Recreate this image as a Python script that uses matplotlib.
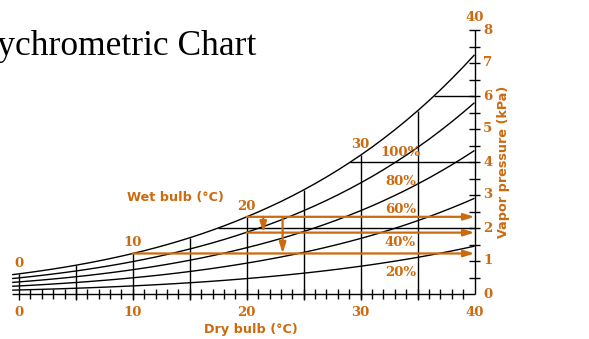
import numpy as np
import matplotlib.pyplot as plt

# dry bulb temperature (C) and saturation vapour pressure (kPa)
temps = [-0.6] + list(range(0, 41))
sat_kpa = [0.585,
           0.611, 0.657, 0.706, 0.758, 0.813, 0.872, 0.935, 1.002, 1.073, 1.148,
           1.228, 1.312, 1.402, 1.497, 1.598, 1.705, 1.818, 1.938, 2.064, 2.198,
           2.339, 2.485, 2.640, 2.802, 2.974, 3.155, 3.345, 3.545, 3.755, 3.976,
           4.208, 4.450, 4.707, 4.975, 5.256, 5.551, 5.859, 6.184, 6.523, 6.877,
           7.248]
rh_levels = [1.0, 0.8, 0.6, 0.4, 0.2]
rh_labels = ["100%", "80%", "60%", "40%", "20%"]
dry_bulb_lines = [0, 5, 10, 15, 20, 25, 30, 35]
pressure_lines = [2, 4, 6]
wet_bulb_marks = [0, 10, 20, 30]
x_labels = [0, 10, 20, 30, 40]
y_labels = [0, 1, 2, 3, 4, 5, 6, 7, 8]
# worked example: wet bulb 20 -> actual vapour pressure, wet bulb 10 (dew point)
example_dry = 20
example_vp = 1.86
example_dew = 10

ORANGE = "#CC6A0E"
temps = np.array(temps)
sat_kpa = np.array(sat_kpa)


def es(t):
    return np.interp(t, temps, sat_kpa)


fig = plt.figure(figsize=(5.89, 3.39), dpi=100)
ax = fig.add_axes([19 / 589, 45 / 339, 455.5 / 589, 264 / 339])
ax.set_xlim(0, 40)
ax.set_ylim(0, 8)
ax.axis("off")

kw = dict(color="black", lw=1.0, clip_on=False, solid_capstyle="butt")

# relative humidity curves
for rh in rh_levels:
    ax.plot(temps, sat_kpa * rh, **kw)

# dry bulb verticals up to saturation
for t in dry_bulb_lines:
    ax.plot([t, t], [-0.18, es(t)], **kw)

# vapour pressure horizontals from saturation to right axis
for p in pressure_lines:
    ax.plot([np.interp(p, sat_kpa, temps), 40], [p, p], **kw)

# axes lines and ticks
ax.plot([temps[0], 40], [0, 0], **kw)
ax.plot([40, 40], [0, 8], **kw)
for t in range(1, 40):
    ax.plot([t, t], [-0.15, 0.15], **kw)
for p in np.arange(0.5, 8.01, 0.5):
    ax.plot([39.55, 40.5], [p, p], **kw)

num_font = dict(color=ORANGE, fontsize=9.5, fontweight="bold", family="DejaVu Serif")
lab_font = dict(color=ORANGE, fontsize=9.2, fontweight="bold", family="DejaVu Sans")

for t in wet_bulb_marks:
    ax.annotate(str(t), (t, es(t)), xytext=(0, 3), textcoords="offset points",
                ha="center", va="bottom", annotation_clip=False, **num_font)
ax.annotate("40", (40, 8), xytext=(0, 4), textcoords="offset points",
            ha="center", va="bottom", annotation_clip=False, **num_font)

for v in x_labels:
    ax.text(v, -0.55, str(v), ha="center", va="center", **num_font)
for v in y_labels:
    ax.text(40.75, v, str(v), ha="left", va="center", **num_font)

rh_y = [4.28, 3.40, 2.55, 1.55, 0.65]
for lab, y in zip(rh_labels, rh_y):
    ax.text(33.5, y, lab, ha="center", va="center", **num_font)

ax.text(13.7, 2.91, "Wet bulb (°C)", ha="center", va="center", **lab_font)
ax.text(20.4, -1.08, "Dry bulb (°C)", ha="center", va="center", clip_on=False, **lab_font)
ax.text(42.55, 4.0, "Vapor pressure (kPa)", rotation=90, ha="center", va="center", **lab_font)

# worked example arrows
akw = dict(arrowstyle="-|>,head_length=0.7,head_width=0.22", color=ORANGE, lw=1.6,
           mutation_scale=9, shrinkA=0, shrinkB=0)
p_sat = es(example_dry)
p_dew = es(example_dew)
ax.annotate("", (40, p_sat), (example_dry, p_sat), arrowprops=akw)
ax.annotate("", (40, example_vp), (example_dry, example_vp), arrowprops=akw)
ax.annotate("", (40, p_dew), (example_dew, p_dew), arrowprops=akw)
ax.annotate("", (21.45, example_vp), (21.45, p_sat), arrowprops=akw)
ax.annotate("", (23.15, p_dew), (23.15, p_sat), arrowprops=akw)

fig.text(256 / 589, (339 - 55) / 339, "Psychrometric Chart", ha="right", va="baseline",
         fontsize=25.5, family="Liberation Serif", color="black")

fig.savefig("out.png", dpi=100)
